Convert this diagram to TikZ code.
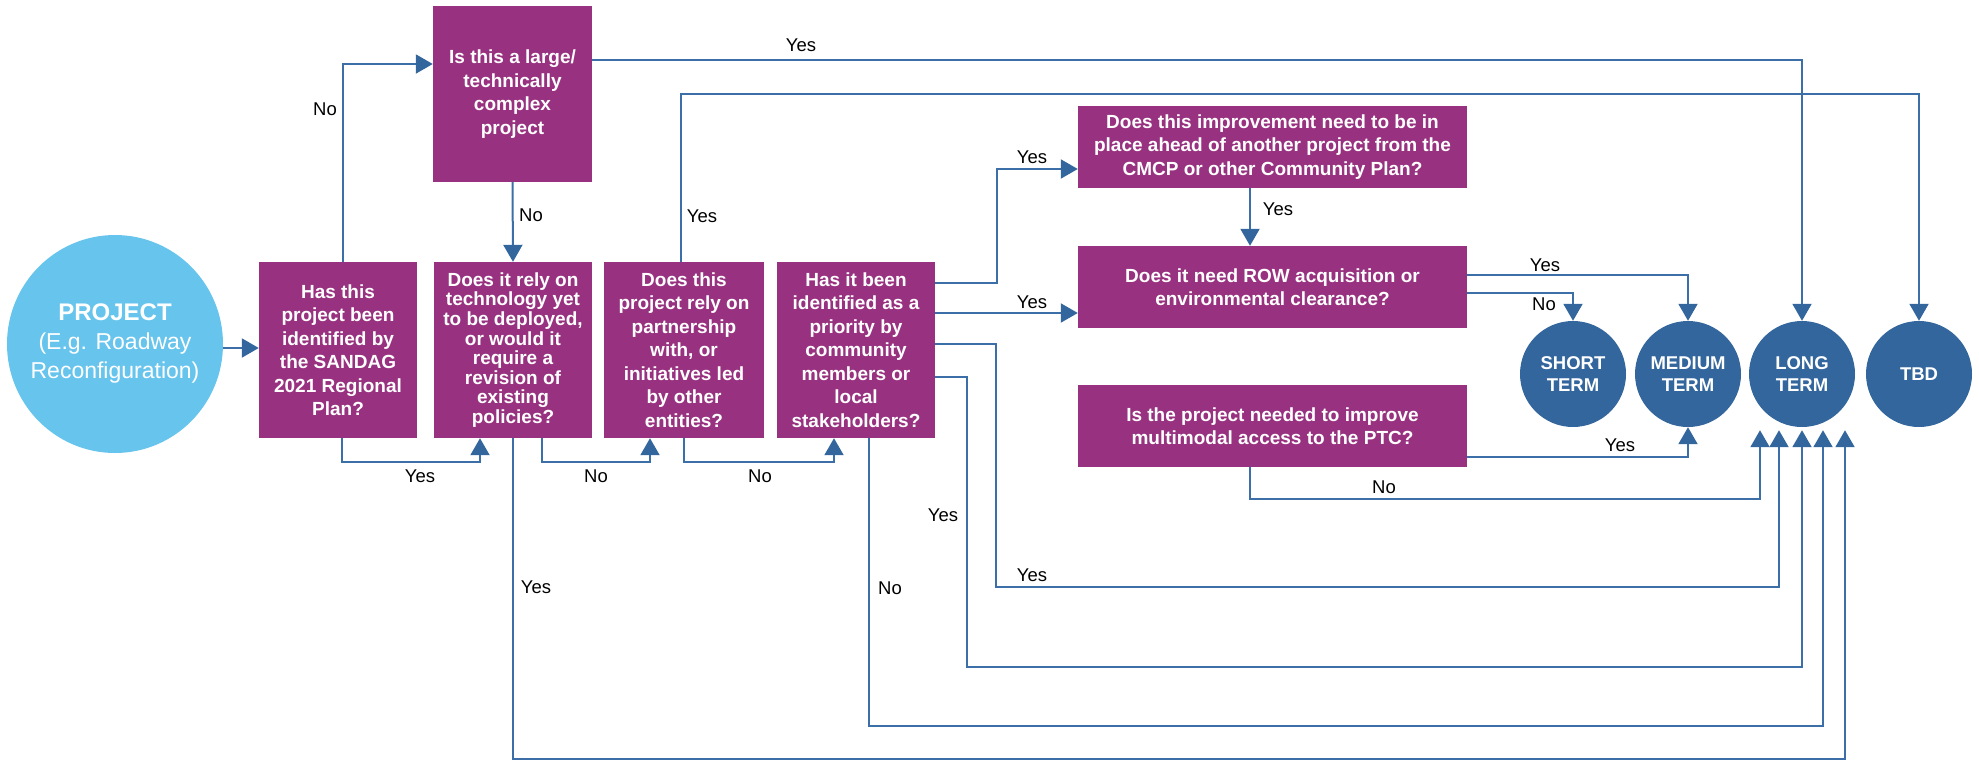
\documentclass[tikz,border=0pt]{standalone}
\usepackage{fontspec}
\setmainfont{Liberation Sans}
\usetikzlibrary{arrows.meta,shapes.geometric,calc}
\definecolor{purp}{RGB}{152,50,128}
\definecolor{lblue}{RGB}{103,196,237}
\definecolor{dblue}{RGB}{51,102,157}
\definecolor{linecol}{RGB}{60,110,168}
\tikzset{
  qbox/.style={rectangle, fill=purp, text=white, inner sep=0pt, align=center,
    font=\fontsize{19}{23.5}\selectfont\bfseries},
  term/.style={circle, fill=dblue, text=white, inner sep=0pt, minimum size=106pt,
    align=center, font=\fontsize{18.5}{22}\selectfont\bfseries},
  lbl/.style={inner sep=0pt, text=black, font=\fontsize{18.5}{22}\selectfont},
  conn/.style={draw=linecol, line width=2pt},
  arr/.style={conn, -{Triangle[width=19pt,length=17pt,color=dblue]}},
}
\begin{document}
\begin{tikzpicture}[x=1pt,y=-1pt]
\useasboundingbox (0,0) rectangle (1979,761);

% nodes
\node[ellipse, fill=lblue, inner sep=0pt, minimum width=216pt, minimum height=218pt,
  label={[text=white, align=center, font=\fontsize{23}{29}\selectfont]center:{{\fontsize{24}{29}\selectfont\bfseries PROJECT}\\(E.g. Roadway\\Reconfiguration)}}]
  (proj) at (115,344) {};

\node[qbox, minimum width=158pt, minimum height=176pt] (b1) at (338,350)
  {Has this\\project been\\identified by\\the SANDAG\\2021 Regional\\Plan?};
\node[qbox, minimum width=158pt, minimum height=176pt,
  font=\fontsize{19}{19.6}\selectfont\bfseries] (b2) at (513,350)
  {Does it rely on\\technology yet\\to be deployed,\\or would it\\require a\\revision of\\existing\\policies?};
\node[qbox, minimum width=159pt, minimum height=176pt] (top) at (512.5,94)
  {Is this a large/\\technically\\complex\\project};
\node[qbox, minimum width=160pt, minimum height=176pt] (b3) at (684,350)
  {Does this\\project rely on\\partnership\\with, or\\initiatives led\\by other\\entities?};
\node[qbox, minimum width=158pt, minimum height=176pt] (b4) at (856,350)
  {Has it been\\identified as a\\priority by\\community\\members or\\local\\stakeholders?};
\node[qbox, minimum width=389pt, minimum height=82pt] (b5) at (1272.5,147)
  {Does this improvement need to be in\\place ahead of another project from the\\CMCP or other Community Plan?};
\node[qbox, minimum width=389pt, minimum height=82pt] (b6) at (1272.5,287)
  {Does it need ROW acquisition or\\environmental clearance?};
\node[qbox, minimum width=389pt, minimum height=82pt] (b7) at (1272.5,426)
  {Is the project needed to improve\\multimodal access to the PTC?};

\node[term] (short) at (1573,374) {SHORT\\TERM};
\node[term] (medium) at (1688,374) {MEDIUM\\TERM};
\node[term] (long) at (1802,374) {LONG\\TERM};
\node[term] (tbd) at (1919,374) {TBD};

% connectors
\draw[arr] ([yshift=-4pt]proj.east) -- ([yshift=-4pt]proj.east -| b1.west);
\draw[arr] ([xshift=5pt]b1.north) |- ([yshift=30pt]top.west);
\draw[arr] (top.south) -- (b2.north);
\draw[arr] ([yshift=34pt]top.east) -| (long.north);
\draw[arr] ([xshift=-3pt]b3.north) -- ++(0,-168) -| (tbd.north);
\draw[arr] ([xshift=4pt]b1.south) -- ++(0,24) -| ([xshift=-33pt]b2.south);
\draw[arr] ([xshift=29pt]b2.south) -- ++(0,24) -| ([xshift=-34pt]b3.south);
\draw[arr] (b3.south) -- ++(0,24) -| ([xshift=-22pt]b4.south);
\draw[arr] (b2.south) -- ++(0,321) -| ([xshift=43pt,yshift=-3pt]long.south);
\draw[arr] ([xshift=13pt]b4.south) -- ++(0,288) -| ([xshift=21pt,yshift=-3pt]long.south);
\draw[arr] ([yshift=-27pt]b4.east) -- ++(32,0) -- ++(0,290) -| ([yshift=-3pt]long.south);
\draw[arr] ([yshift=6pt]b4.east) -- ++(61,0) -- ++(0,243) -| ([xshift=-23pt,yshift=-3pt]long.south);
\draw[arr] ([yshift=67pt]b4.east) -- ++(62,0) |- ([yshift=-22pt]b5.west);
\draw[arr] ([yshift=37pt]b4.east) -- ([yshift=-26pt]b6.west);
\draw[arr] ([xshift=-22.5pt]b5.south) -- ([xshift=-22.5pt]b6.north);
\draw[arr] ([yshift=12pt]b6.east) -| (medium.north);
\draw[arr] ([yshift=-6pt]b6.east) -| (short.north);
\draw[arr] ([yshift=-31pt]b7.east) -| (medium.south);
\draw[arr] ([xshift=-22.5pt]b7.south) -- ++(0,32) -| ([xshift=-42pt,yshift=-3pt]long.south);

% labels
\node[lbl] (l1) at (325,109) {No};
\node[lbl] (l2) at (531,215) {No};
\node[lbl] (l3) at (801,45) {Yes};
\node[lbl] (l4) at (702,216) {Yes};
\node[lbl] (l5) at (420,476) {Yes};
\node[lbl] (l6) at (596,476) {No};
\node[lbl] (l7) at (760,476) {No};
\node[lbl] (l8) at (536,587) {Yes};
\node[lbl] (l9) at (890,588) {No};
\node[lbl] (l10) at (943,515) {Yes};
\node[lbl] (l11) at (1032,575) {Yes};
\node[lbl] (l12) at (1032,157) {Yes};
\node[lbl] (l13) at (1032,302) {Yes};
\node[lbl] (l14) at (1278,209) {Yes};
\node[lbl] (l15) at (1545,265) {Yes};
\node[lbl] (l16) at (1544,304) {No};
\node[lbl] (l17) at (1620,445) {Yes};
\node[lbl] (l18) at (1384,487) {No};
\end{tikzpicture}
\end{document}
